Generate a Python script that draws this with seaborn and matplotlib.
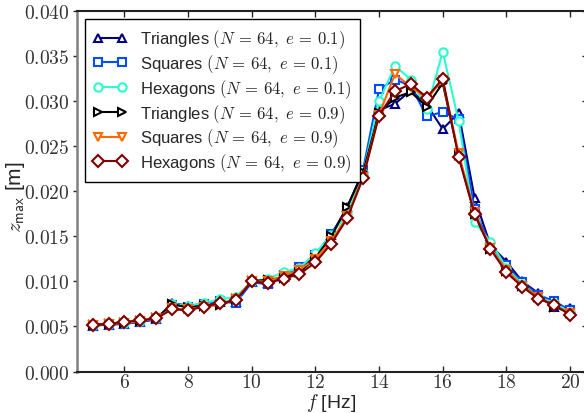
import numpy as np
import pandas as pd
import matplotlib
matplotlib.use("Agg")
import matplotlib.pyplot as plt
from matplotlib.ticker import FuncFormatter, MultipleLocator
from matplotlib.lines import TICKLEFT
import seaborn as sns

# Excitation frequencies [Hz]
freq = [5.0, 5.5, 6.0, 6.5, 7.0, 7.5, 8.0, 8.5, 9.0, 9.5, 10.0, 10.5, 11.0, 11.5,
        12.0, 12.5, 13.0, 13.5, 14.0, 14.5, 15.0, 15.5, 16.0, 16.5, 17.0, 17.5,
        18.0, 18.5, 19.0, 19.5, 20.0]

# Maximum vertical displacement z_max [m] for each lattice / restitution coefficient
tri_e01 = [0.0051, 0.0052, 0.0053, 0.0055, 0.0058, 0.0076, 0.0073, 0.0075, 0.0077, 0.0077,
           0.0099, 0.0098, 0.0105, 0.0113, 0.0128, 0.0152, 0.0182, 0.0223, 0.0290, 0.0297,
           0.0312, 0.0296, 0.0269, 0.0287, 0.0193, 0.0140, 0.0122, 0.0100, 0.0087, 0.0072,
           0.0070]
sq_e01 = [0.0051, 0.0052, 0.0053, 0.0055, 0.0058, 0.0074, 0.0072, 0.0075, 0.0078, 0.0076,
          0.0099, 0.0097, 0.0107, 0.0116, 0.0129, 0.0153, 0.0178, 0.0224, 0.0313, 0.0324,
          0.0317, 0.0283, 0.0288, 0.0280, 0.0180, 0.0140, 0.0118, 0.0099, 0.0085, 0.0078,
          0.0068]
hex_e01 = [0.0052, 0.0053, 0.0054, 0.0056, 0.0059, 0.0075, 0.0073, 0.0076, 0.0080, 0.0083,
           0.0100, 0.0103, 0.0110, 0.0115, 0.0131, 0.0152, 0.0175, 0.0220, 0.0300, 0.0339,
           0.0324, 0.0291, 0.0355, 0.0278, 0.0166, 0.0144, 0.0115, 0.0097, 0.0083, 0.0076,
           0.0066]
tri_e09 = [0.0052, 0.0053, 0.0054, 0.0056, 0.0059, 0.0075, 0.0071, 0.0073, 0.0074, 0.0080,
           0.0100, 0.0102, 0.0104, 0.0110, 0.0126, 0.0150, 0.0183, 0.0221, 0.0287, 0.0304,
           0.0310, 0.0294, 0.0320, 0.0240, 0.0175, 0.0136, 0.0112, 0.0095, 0.0083, 0.0072,
           0.0065]
sq_e09 = [0.0052, 0.0053, 0.0054, 0.0056, 0.0059, 0.0070, 0.0069, 0.0072, 0.0074, 0.0081,
          0.0100, 0.0100, 0.0106, 0.0113, 0.0125, 0.0145, 0.0172, 0.0216, 0.0285, 0.0330,
          0.0316, 0.0303, 0.0323, 0.0242, 0.0177, 0.0137, 0.0113, 0.0095, 0.0083, 0.0073,
          0.0065]
hex_e09 = [0.00516, 0.0053, 0.0055, 0.0057, 0.0059, 0.0069, 0.0068, 0.0072, 0.0076, 0.0079,
           0.0100, 0.0098, 0.0103, 0.0108, 0.0121, 0.0142, 0.0170, 0.0215, 0.0284, 0.0311,
           0.0319, 0.0304, 0.0325, 0.0238, 0.0175, 0.0136, 0.0110, 0.0094, 0.0081, 0.0074,
           0.0063]

labels = [
    r"Triangles $(N\,=\,64,\ e\,=\,0.1)$",
    r"Squares $(N\,=\,64,\ e\,=\,0.1)$",
    r"Hexagons $(N\,=\,64,\ e\,=\,0.1)$",
    r"Triangles $(N\,=\,64,\ e\,=\,0.9)$",
    r"Squares $(N\,=\,64,\ e\,=\,0.9)$",
    r"Hexagons $(N\,=\,64,\ e\,=\,0.9)$",
]
series = [tri_e01, sq_e01, hex_e01, tri_e09, sq_e09, hex_e09]
markers = ["^", "s", "o", ">", "v", "D"]
jet = matplotlib.colormaps["jet"]
colors = [jet(0.0), jet(0.2), jet(0.4), "black", jet(0.8), jet(1.0)]

sns.set_style("ticks")
plt.rcParams["font.family"] = ["Liberation Sans", "DejaVu Sans"]
plt.rcParams["mathtext.fontset"] = "cm"

fig = plt.figure(figsize=(5.84, 4.14), dpi=100)
ax = fig.add_axes([0.1313, 0.1002, 0.872, 0.8708])

for vals, lab, mk, col in zip(series, labels, markers, colors):
    sns.lineplot(x=freq, y=vals, ax=ax, color=col, marker=mk,
                 markersize=6 if mk != "D" else 6.2,
                 markerfacecolor="white", markeredgecolor=col, markeredgewidth=1.5,
                 linewidth=1.5, label=lab, legend=False)

ax.set_xlim(4.5, 20.5)
ax.set_ylim(0.0, 0.040)
ax.xaxis.set_major_locator(MultipleLocator(2))
ax.yaxis.set_major_locator(MultipleLocator(0.005))
ax.xaxis.set_major_formatter(FuncFormatter(lambda v, p: f"${v:.0f}$"))
ax.yaxis.set_major_formatter(FuncFormatter(lambda v, p: f"${v:.3f}$"))

ax.tick_params(axis="x", which="major", direction="in", top=True, bottom=True,
               length=4, width=1, labelsize=14, labelcolor="#333333", pad=1)
ax.tick_params(axis="y", which="major", direction="out", left=True, right=True,
               length=3, width=1, labelsize=14, labelcolor="#333333", pad=2)
# right-hand ticks point into the axes
for t in ax.yaxis.get_major_ticks():
    t.tick2line.set_marker(TICKLEFT)

for side in ["top", "bottom", "right"]:
    ax.spines[side].set_color("#222222")
    ax.spines[side].set_linewidth(1.5)
ax.spines["left"].set_color("#808080")
ax.spines["left"].set_linewidth(1.8)

ax.set_xlabel(r"$f$ [Hz]", fontsize=14)
ax.xaxis.set_label_coords(0.5, -0.054)
ax.set_ylabel(r"$z_\mathsf{max}$ [m]", fontsize=15)
ax.yaxis.set_label_coords(-0.098, 0.487)

leg = ax.legend(loc="upper left", numpoints=2, fontsize=12, frameon=True,
                fancybox=False, framealpha=1, edgecolor="black",
                handlelength=2.0, labelspacing=0.12, borderaxespad=0.5,
                borderpad=0.5)
leg.get_frame().set_linewidth(1.0)

fig.savefig("out.png", dpi=100)
